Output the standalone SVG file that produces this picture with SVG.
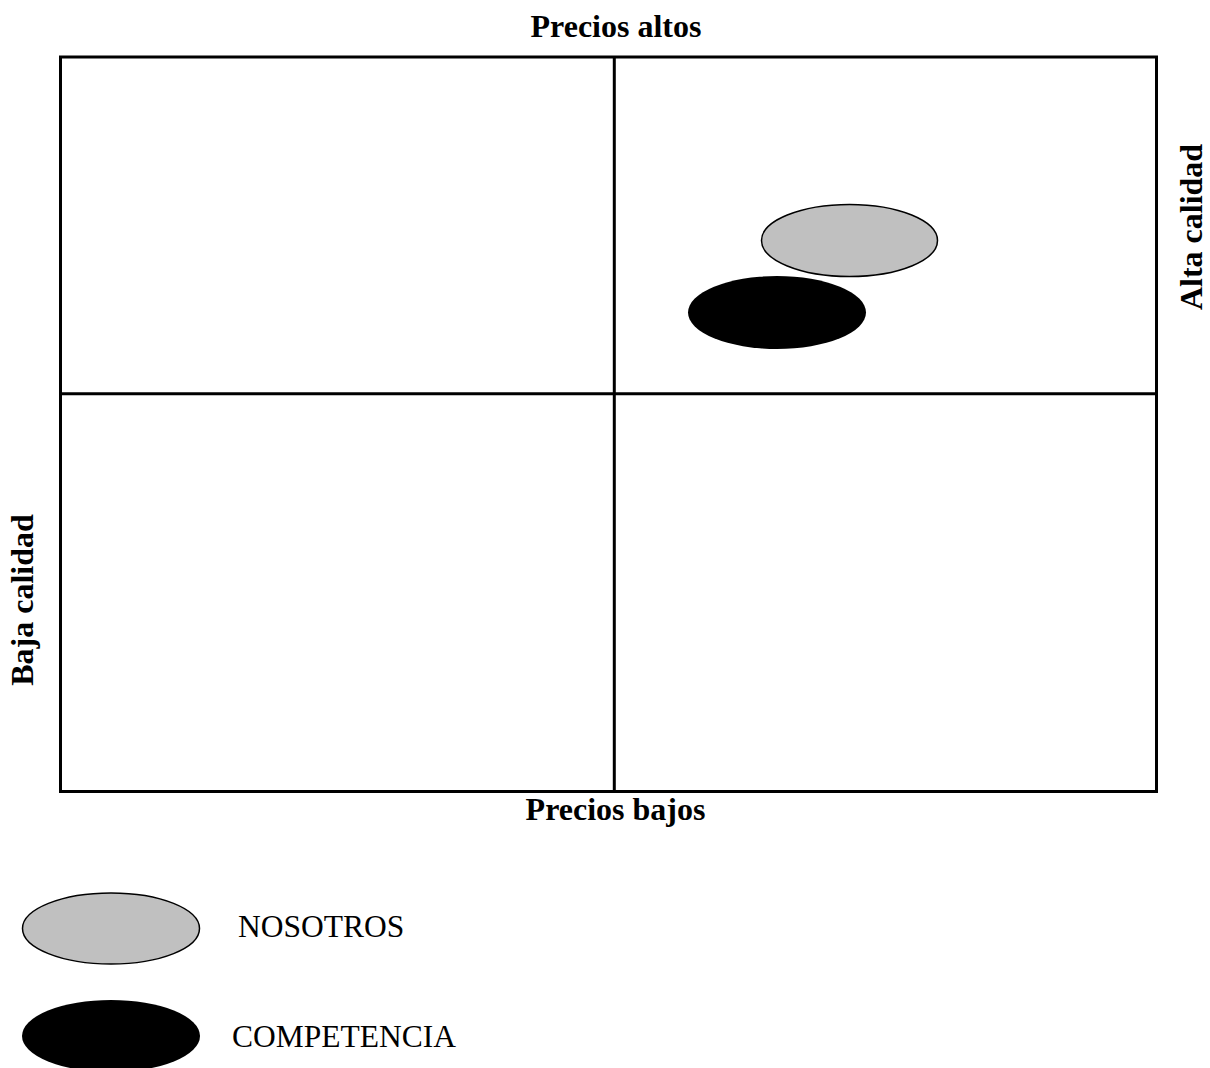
<svg xmlns="http://www.w3.org/2000/svg" width="1210" height="1068" viewBox="0 0 1210 1068">
<style>
.lbl{font-family:"Liberation Serif","Times New Roman",serif;font-size:32px;font-weight:bold;fill:#000}
.leg{font-family:"Liberation Serif","Times New Roman",serif;font-size:31.5px;fill:#000}
.grid{fill:none;stroke:#000;stroke-width:3}
.us{fill:#c0c0c0;stroke:#000;stroke-width:1.5}
.comp{fill:#000;stroke:none}
</style>
<rect width="1210" height="1068" fill="#fff"/>
<g id="matrix">
<rect class="grid" x="60.5" y="57" width="1096" height="734.5"/>
<line class="grid" x1="614.3" y1="57" x2="614.3" y2="791.5"/>
<line class="grid" x1="60.5" y1="393.7" x2="1156.5" y2="393.7"/>
</g>
<g id="axis-labels">
<text class="lbl" x="616" y="36.7" text-anchor="middle">Precios altos</text>
<text class="lbl" x="615.5" y="820" text-anchor="middle">Precios bajos</text>
<text class="lbl" transform="translate(33,600) rotate(-90)" text-anchor="middle">Baja calidad</text>
<text class="lbl" transform="translate(1202,227) rotate(-90)" text-anchor="middle">Alta calidad</text>
</g>
<g id="nosotros-point"><ellipse class="us" cx="849.5" cy="240.5" rx="88" ry="36"/></g>
<g id="competencia-point"><ellipse class="comp" cx="777" cy="312.5" rx="89" ry="36.5"/></g>
<g id="legend-nosotros">
<ellipse class="us" cx="111" cy="928.5" rx="88.5" ry="35.5"/>
<text class="leg" x="238" y="937">NOSOTROS</text>
</g>
<g id="legend-competencia">
<ellipse class="comp" cx="111" cy="1036" rx="89" ry="36"/>
<text class="leg" x="232" y="1047">COMPETENCIA</text>
</g>
<g id="connectors"></g>
</svg>
